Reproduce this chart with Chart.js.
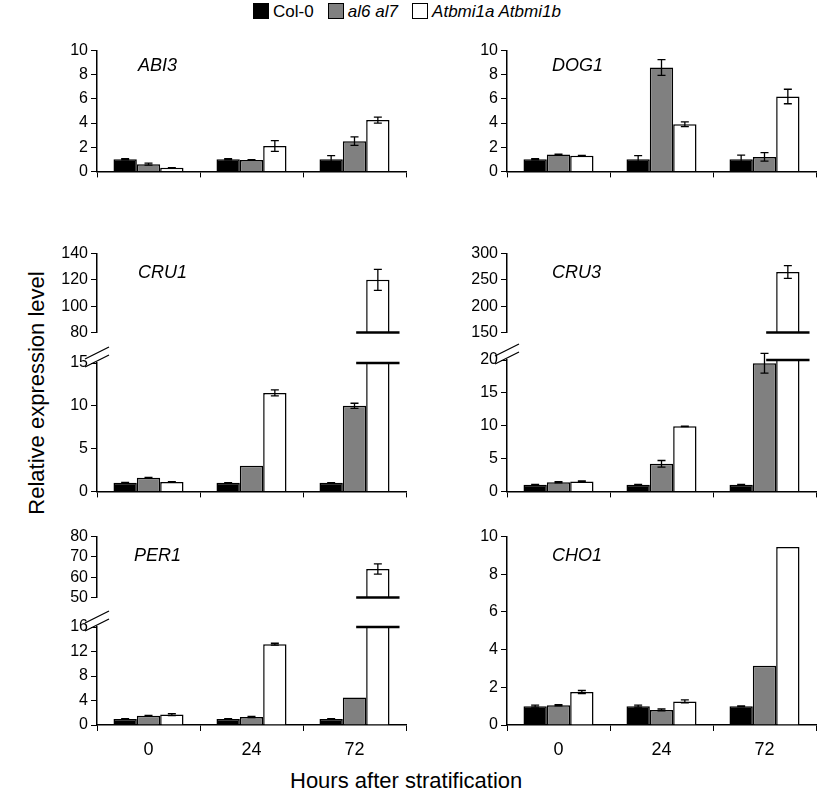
<!DOCTYPE html>
<html>
<head>
<meta charset="utf-8">
<script src="https://cdn.jsdelivr.net/npm/chart.js@4"></script>
<style>
  body { margin: 0; background: #fff; font-family: "Liberation Sans", Arial, sans-serif; }
  #wrap { position: relative; width: 822px; height: 800px; }
  canvas { position: absolute; }
  .lbl { position: absolute; color: #000; white-space: nowrap; }
  .gene { font-style: italic; font-size: 18px; }
  .sw { display: inline-block; width: 14px; height: 14px; border: 1.5px solid #000; vertical-align: -2px; margin-right: 4px; }
</style>
</head>
<body>
<div id="wrap">
  <div class="lbl" style="left:253px;top:2px;font-size:17px;">
    <span class="sw" style="background:#000"></span>Col-0&nbsp;&nbsp;
    <span class="sw" style="background:#808080"></span><i>al6 al7</i>&nbsp;&nbsp;
    <span class="sw" style="background:#fff"></span><i>Atbmi1a Atbmi1b</i>
  </div>
  <div class="lbl" style="left:-85px;top:380px;font-size:22px;transform:rotate(-90deg);">Relative expression level</div>
  <div class="lbl" style="left:290px;top:768px;font-size:22px;">Hours after stratification</div>
</div>
<script>
const hours = ["0", "24", "72"];
const seriesNames = ["Col-0", "al6 al7", "Atbmi1a Atbmi1b"];
const fills = ["#000000", "#808080", "#ffffff"];

// ABI3
const abi3Col = [1, 1, 1], abi3ColErr = [0.05, 0.05, 0.3];
const abi3Al = [0.6, 0.95, 2.5], abi3AlErr = [0.08, 0.02, 0.35];
const abi3Bmi = [0.3, 2.1, 4.25], abi3BmiErr = [0.02, 0.45, 0.25];
// DOG1
const dog1Col = [1, 1, 1], dog1ColErr = [0.05, 0.3, 0.35];
const dog1Al = [1.4, 8.6, 1.2], dog1AlErr = [0.03, 0.65, 0.35];
const dog1Bmi = [1.3, 3.9, 6.2], dog1BmiErr = [0.02, 0.2, 0.6];
// CRU1
const cru1Col = [1, 1, 1], cru1ColErr = [0.05, 0.02, 0.02];
const cru1Al = [1.6, 3, 10], cru1AlErr = [0.05, 0, 0.3];
const cru1Bmi = [1.1, 11.5, 120], cru1BmiErr = [0.05, 0.35, 8];
// CRU3
const cru3Col = [1, 1, 1], cru3ColErr = [0.05, 0.05, 0.05];
const cru3Al = [1.4, 4.2, 19.5], cru3AlErr = [0.1, 0.5, 1.5];
const cru3Bmi = [1.5, 9.9, 265], cru3BmiErr = [0.1, 0.05, 12];
// PER1
const per1Col = [1, 1, 1], per1ColErr = [0.05, 0.05, 0.05];
const per1Al = [1.5, 1.3, 4.5], per1AlErr = [0.05, 0.1, 0];
const per1Bmi = [1.7, 13.2, 64], per1BmiErr = [0.15, 0.15, 2.5];
// CHO1
const cho1Col = [1, 1, 1], cho1ColErr = [0.05, 0.05, 0.02];
const cho1Al = [1.05, 0.8, 3.15], cho1AlErr = [0.03, 0.05, 0];
const cho1Bmi = [1.75, 1.25, 9.45], cho1BmiErr = [0.08, 0.08, 0];

const wrap = document.getElementById("wrap");

//draws error bars on every bar that fits inside its scale
const errorBars = {
  id: "errorBars",
  afterDatasetsDraw(chart) {
    const ctx = chart.ctx, y = chart.scales.y;
    chart.data.datasets.forEach((ds, i) => {
      if (!ds.errors) return;
      chart.getDatasetMeta(i).data.forEach((bar, j) => {
        const raw = ds.data[j];
        if (raw == null) return;
        const v = Array.isArray(raw) ? raw[1] : raw;
        const e = ds.errors[j];
        if (!e || v > y.max) return;
        const top = y.getPixelForValue(v + e), bot = y.getPixelForValue(v - e);
        ctx.save();
        ctx.strokeStyle = "#000";
        ctx.lineWidth = 1.3;
        ctx.beginPath();
        ctx.moveTo(bar.x, top); ctx.lineTo(bar.x, bot);
        ctx.moveTo(bar.x - 4, top); ctx.lineTo(bar.x + 4, top);
        ctx.moveTo(bar.x - 4, bot); ctx.lineTo(bar.x + 4, bot);
        ctx.stroke();
        ctx.restore();
      });
    });
  },
};

//break marks: horizontal bars across the broken bar and slashes on the y axis
const breakMarks = {
  id: "breakMarks",
  afterDraw(chart) {
    const o = chart.options.plugins.breakMarks;
    if (!o || !o.mode) return;
    const ctx = chart.ctx, area = chart.chartArea;
    const bar = chart.getDatasetMeta(2).data[2];
    ctx.save();
    ctx.strokeStyle = "#000";
    ctx.lineWidth = 2.5;
    const yy = o.mode === "top" ? area.bottom : area.top;
    ctx.beginPath();
    ctx.moveTo(bar.x - bar.width / 2 - 10, yy);
    ctx.lineTo(bar.x + bar.width / 2 + 10, yy);
    ctx.stroke();
    if (o.mode === "bottom") {
      ctx.lineWidth = 1.3;
      ctx.beginPath();
      const x0 = area.left;
      ctx.moveTo(x0 - 12, area.top - 4); ctx.lineTo(x0 + 12, area.top - 16);
      ctx.moveTo(x0 - 12, area.top + 4); ctx.lineTo(x0 + 12, area.top - 8);
      ctx.stroke();
    }
    ctx.restore();
  },
};

function makePart(p) {
  const padTop = p.padTop || 12;
  const xh = p.showX ? (p.labels ? 36 : 8) : 0;
  const h = (p.bottom - p.top) + padTop + xh;
  const c = document.createElement("canvas");
  c.width = 375; c.height = h;
  c.style.left = (p.left - 60) + "px";
  c.style.top = (p.top - padTop) + "px";
  wrap.appendChild(c);
  const datasets = p.series.map((s, i) => ({
    label: seriesNames[i],
    data: s.data,
    errors: s.err,
    backgroundColor: fills[i],
    borderColor: "#000",
    borderWidth: 1.5,
    borderSkipped: "start",
    categoryPercentage: 0.68,
    barPercentage: 1.0,
  }));
  new Chart(c, {
    type: "bar",
    data: { labels: hours, datasets },
    options: {
      responsive: false,
      animation: false,
      layout: { padding: { top: padTop, right: 6, left: 0, bottom: 0 } },
      plugins: {
        legend: { display: false },
        tooltip: { enabled: false },
        breakMarks: { mode: p.breakMode },
      },
      scales: {
        x: {
          display: p.showX,
          offset: true,
          afterFit: (s) => { s.height = xh; },
          grid: { offset: true, drawOnChartArea: false, color: "#000", tickLength: 6 },
          border: { color: "#000", width: 1.5 },
          ticks: { display: !!p.labels, color: "#000", font: { size: 18, family: "Liberation Sans" }, padding: 8 },
        },
        y: {
          min: p.min, max: p.max,
          afterFit: (s) => { s.width = 60; },
          grid: { drawOnChartArea: false, color: "#000", tickLength: 6 },
          border: { color: "#000", width: 1.5 },
          ticks: { stepSize: p.step, autoSkip: false, color: "#000", font: { size: 16, family: "Liberation Sans" }, padding: 3 },
        },
      },
    },
    plugins: [errorBars, breakMarks],
  });
}

function gene(name, x, y) {
  const d = document.createElement("div");
  d.className = "lbl gene";
  d.style.left = x + "px"; d.style.top = y + "px";
  d.textContent = name;
  wrap.appendChild(d);
}

function triple(a, ae, b, be, c, ce) {
  return [{ data: a, err: ae }, { data: b, err: be }, { data: c, err: ce }];
}

//top parts of broken panels only show the tall bar as a floating bar
function topOnly(vals, errs, lo) {
  return [
    { data: [null, null, null], err: null },
    { data: [null, null, null], err: null },
    { data: [null, null, [lo, vals[2]]], err: [0, 0, errs[2]] },
  ];
}

const L = 97, R = 507;

makePart({ left: L, top: 50, bottom: 176, min: 0, max: 10, step: 2, showX: true,
  series: triple(abi3Col, abi3ColErr, abi3Al, abi3AlErr, abi3Bmi, abi3BmiErr) });
gene("ABI3", 138, 55);
makePart({ left: R, top: 50, bottom: 176, min: 0, max: 10, step: 2, showX: true,
  series: triple(dog1Col, dog1ColErr, dog1Al, dog1AlErr, dog1Bmi, dog1BmiErr) });
gene("DOG1", 552, 55);

makePart({ left: L, top: 253, bottom: 345, min: 80, max: 140, step: 20, showX: false, breakMode: "top",
  series: topOnly(cru1Bmi, cru1BmiErr, 80) });
makePart({ left: L, top: 363, bottom: 496, min: 0, max: 15, step: 5, showX: true, breakMode: "bottom", padTop: 20,
  series: triple(cru1Col, cru1ColErr, cru1Al, cru1AlErr, cru1Bmi, cru1BmiErr) });
gene("CRU1", 138, 262);
makePart({ left: R, top: 253, bottom: 345, min: 150, max: 300, step: 50, showX: false, breakMode: "top",
  series: topOnly(cru3Bmi, cru3BmiErr, 150) });
makePart({ left: R, top: 360, bottom: 496, min: 0, max: 20, step: 5, showX: true, breakMode: "bottom", padTop: 20,
  series: triple(cru3Col, cru3ColErr, cru3Al, cru3AlErr, cru3Bmi, cru3BmiErr) });
gene("CRU3", 552, 262);

makePart({ left: L, top: 536, bottom: 610, min: 50, max: 80, step: 10, showX: false, breakMode: "top",
  series: topOnly(per1Bmi, per1BmiErr, 50) });
makePart({ left: L, top: 627, bottom: 725, min: 0, max: 16, step: 4, showX: true, breakMode: "bottom", padTop: 20, labels: true,
  series: triple(per1Col, per1ColErr, per1Al, per1AlErr, per1Bmi, per1BmiErr) });
gene("PER1", 134, 545);
makePart({ left: R, top: 536, bottom: 725, min: 0, max: 10, step: 2, showX: true, labels: true,
  series: triple(cho1Col, cho1ColErr, cho1Al, cho1AlErr, cho1Bmi, cho1BmiErr) });
gene("CHO1", 552, 545);
</script>
</body>
</html>
